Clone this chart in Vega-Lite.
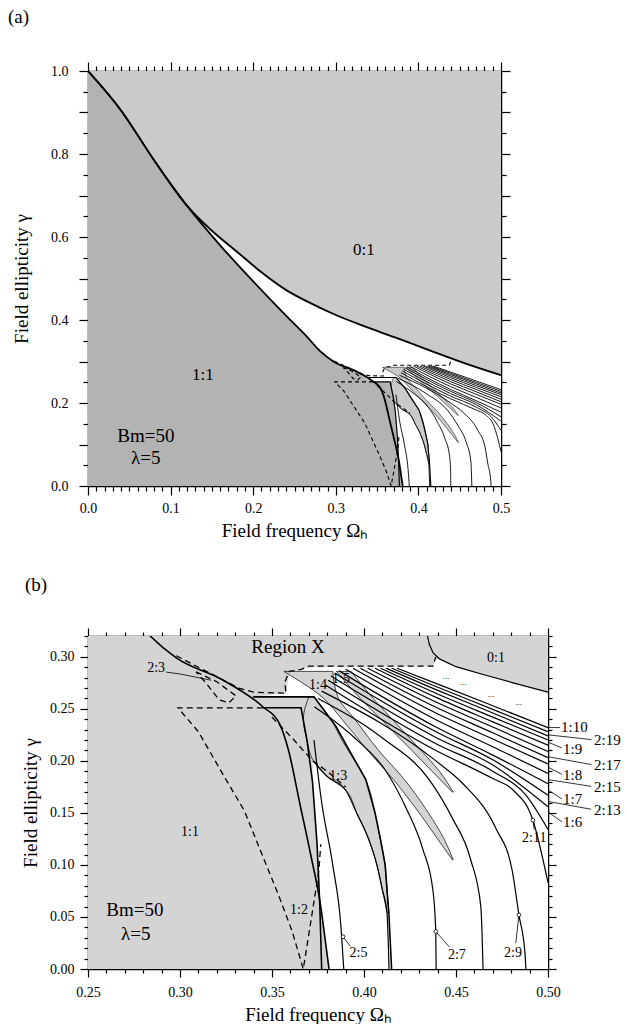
{
"$schema": "https://vega.github.io/schema/vega-lite/v6.json",
"padding": {"left": 8, "top": 8, "right": 0, "bottom": 0},
"spacing": 36,
"config": {
  "font": "Liberation Serif",
  "view": {"stroke": null},
  "axis": {"domainColor": "black", "domainWidth": 1.5, "tickColor": "black", "tickWidth": 1.2, "labelFont": "Liberation Serif", "labelFontSize": 14, "labelColor": "black", "titleFont": "Liberation Serif", "titleFontSize": 19, "titleFontWeight": "normal", "titleColor": "black", "grid": false, "labelFlush": false, "labelOverlap": false},
  "title": {"font": "Liberation Serif", "fontSize": 19, "fontWeight": "normal", "color": "black"}
},
"datasets": {
  "LA": [
    {"o":0,"x":0,"y":1},{"o":1,"x":0.04,"y":0.905},{"o":2,"x":0.08,"y":0.785},{"o":3,"x":0.12,"y":0.675},{"o":4,"x":0.16,"y":0.58},{"o":5,"x":0.2,"y":0.493},{"o":6,"x":0.24,"y":0.41},{"o":7,"x":0.265,"y":0.36},{"o":8,"x":0.281,"y":0.325},{"o":9,"x":0.298,"y":0.299},{"o":10,"x":0.323,"y":0.278},{"o":11,"x":0.345,"y":0.252},{"o":12,"x":0.354,"y":0.236},{"o":13,"x":0.359,"y":0.21},{"o":14,"x":0.365,"y":0.16},{"o":15,"x":0.371,"y":0.11},{"o":16,"x":0.3765,"y":0.06},{"o":17,"x":0.3795,"y":0.02},{"o":18,"x":0.381,"y":0}
  ],
  "C01a": [
    {"o":0,"x":0,"y":1},{"o":1,"x":0.04,"y":0.905},{"o":2,"x":0.08,"y":0.785},{"o":3,"x":0.12,"y":0.675},{"o":4,"x":0.15,"y":0.615},{"o":5,"x":0.18,"y":0.565},{"o":6,"x":0.21,"y":0.515},{"o":7,"x":0.24,"y":0.472},{"o":8,"x":0.27,"y":0.44},{"o":9,"x":0.3,"y":0.412},{"o":10,"x":0.34,"y":0.381},{"o":11,"x":0.38,"y":0.352},{"o":12,"x":0.42,"y":0.322},{"o":13,"x":0.46,"y":0.293},{"o":14,"x":0.5,"y":0.267}
  ],
  "C01b": [
    {"o":0,"x":0.4345,"y":0.32},{"o":1,"x":0.4355,"y":0.312},{"o":2,"x":0.4375,"y":0.304},{"o":3,"x":0.441,"y":0.298},{"o":4,"x":0.45,"y":0.2905},{"o":5,"x":0.4647,"y":0.283},{"o":6,"x":0.481,"y":0.275},{"o":7,"x":0.5,"y":0.266}
  ],
  "whiteA": [
    {"x":0,"lo":1,"hi":1},{"x":0.04,"lo":0.905,"hi":0.905},{"x":0.08,"lo":0.785,"hi":0.785},{"x":0.12,"lo":0.675,"hi":0.675},{"x":0.16,"lo":0.58,"hi":0.598},{"x":0.2,"lo":0.493,"hi":0.532},{"x":0.24,"lo":0.41,"hi":0.472},{"x":0.265,"lo":0.36,"hi":0.445},{"x":0.281,"lo":0.325,"hi":0.43},{"x":0.298,"lo":0.299,"hi":0.414},{"x":0.323,"lo":0.278,"hi":0.394},{"x":0.345,"lo":0.252,"hi":0.377},{"x":0.3658,"lo":0.251,"hi":0.362},{"x":0.369,"lo":0.22,"hi":0.36},{"x":0.372,"lo":0.18,"hi":0.358},{"x":0.3745,"lo":0.12,"hi":0.356},{"x":0.3765,"lo":0.06,"hi":0.355},{"x":0.3795,"lo":0.02,"hi":0.352},{"x":0.381,"lo":0,"hi":0.351},{"x":0.42,"lo":0,"hi":0.322},{"x":0.46,"lo":0,"hi":0.293},{"x":0.5,"lo":0,"hi":0.267}
  ],
  "darkA": [
    {"x":0,"y":1},{"x":0.04,"y":0.905},{"x":0.08,"y":0.785},{"x":0.12,"y":0.675},{"x":0.16,"y":0.58},{"x":0.2,"y":0.493},{"x":0.24,"y":0.41},{"x":0.265,"y":0.36},{"x":0.281,"y":0.325},{"x":0.298,"y":0.299},{"x":0.323,"y":0.278},{"x":0.345,"y":0.252},{"x":0.3658,"y":0.251},{"x":0.369,"y":0.22},{"x":0.372,"y":0.18},{"x":0.3745,"y":0.12},{"x":0.3765,"y":0.06},{"x":0.3795,"y":0.02},{"x":0.381,"y":0}
  ],
  "whiteB": [
    {"y":0,"xl":0.381,"xr":0.5},{"y":0.02,"xl":0.3795,"xr":0.5},{"y":0.06,"xl":0.3765,"xr":0.5},{"y":0.1,"xl":0.3755,"xr":0.5},{"y":0.12,"xl":0.3745,"xr":0.5},{"y":0.18,"xl":0.372,"xr":0.5},{"y":0.22,"xl":0.3722,"xr":0.5},{"y":0.251,"xl":0.3728,"xr":0.5},{"y":0.2614,"xl":0.3728,"xr":0.5},{"y":0.2615,"xl":0.3397,"xr":0.5},{"y":0.265,"xl":0.3576,"xr":0.5},{"y":0.266,"xl":0.3577,"xr":0.5},{"y":0.275,"xl":0.3585,"xr":0.481},{"y":0.283,"xl":0.3593,"xr":0.4647},{"y":0.285,"xl":0.3595,"xr":0.46},{"y":0.29,"xl":0.37,"xr":0.45},{"y":0.291,"xl":0.4375,"xr":0.4485},{"y":0.298,"xl":0.439,"xr":0.441}
  ],
  "tongue": [
    {"id":"t13","y":0.054,"xl":0.4125,"xr":0.4135},{"id":"t13","y":0.076,"xl":0.41,"xr":0.4125},{"id":"t13","y":0.1,"xl":0.407,"xr":0.4115},{"id":"t13","y":0.124,"xl":0.4027,"xr":0.409},{"id":"t13","y":0.15,"xl":0.396,"xr":0.406},{"id":"t13","y":0.172,"xl":0.39,"xr":0.403},{"id":"t13","y":0.185,"xl":0.38,"xr":0.4},{"id":"t13","y":0.2,"xl":0.3725,"xr":0.395},{"id":"t13","y":0.22,"xl":0.369,"xr":0.388},{"id":"t13","y":0.24,"xl":0.367,"xr":0.382},{"id":"t13","y":0.2615,"xl":0.37,"xr":0.3728},
    {"id":"t14","y":0.105,"xl":0.448,"xr":0.4485},{"id":"t14","y":0.125,"xl":0.44,"xr":0.4435},{"id":"t14","y":0.15,"xl":0.43,"xr":0.435},{"id":"t14","y":0.182,"xl":0.416,"xr":0.422},{"id":"t14","y":0.21,"xl":0.402,"xr":0.408},{"id":"t14","y":0.24,"xl":0.388,"xr":0.395},{"id":"t14","y":0.2606,"xl":0.3777,"xr":0.386},{"id":"t14","y":0.286,"xl":0.3565,"xr":0.383},
    {"id":"t15","y":0.17,"xl":0.448,"xr":0.4485},{"id":"t15","y":0.19,"xl":0.437,"xr":0.441},{"id":"t15","y":0.21,"xl":0.426,"xr":0.431},{"id":"t15","y":0.235,"xl":0.412,"xr":0.418},{"id":"t15","y":0.26,"xl":0.398,"xr":0.405},{"id":"t15","y":0.286,"xl":0.385,"xr":0.393}
  ],
  "fan": [
    {"id":"F1","o":0,"x":0.418,"y":0.289},{"id":"F1","o":1,"x":0.4391,"y":0.2745},{"id":"F1","o":2,"x":0.47,"y":0.253},{"id":"F1","o":3,"x":0.5,"y":0.232},
    {"id":"F2","o":0,"x":0.415,"y":0.289},{"id":"F2","o":1,"x":0.4391,"y":0.2715},{"id":"F2","o":2,"x":0.47,"y":0.2495},{"id":"F2","o":3,"x":0.5,"y":0.228},
    {"id":"F3","o":0,"x":0.412,"y":0.289},{"id":"F3","o":1,"x":0.4391,"y":0.2685},{"id":"F3","o":2,"x":0.47,"y":0.246},{"id":"F3","o":3,"x":0.5,"y":0.224},
    {"id":"F4","o":0,"x":0.409,"y":0.289},{"id":"F4","o":1,"x":0.4391,"y":0.265},{"id":"F4","o":2,"x":0.47,"y":0.242},{"id":"F4","o":3,"x":0.5,"y":0.22},
    {"id":"F5","o":0,"x":0.406,"y":0.289},{"id":"F5","o":1,"x":0.4391,"y":0.261},{"id":"F5","o":2,"x":0.47,"y":0.2375},{"id":"F5","o":3,"x":0.5,"y":0.215},
    {"id":"F6","o":0,"x":0.402,"y":0.289},{"id":"F6","o":1,"x":0.4391,"y":0.2565},{"id":"F6","o":2,"x":0.47,"y":0.2325},{"id":"F6","o":3,"x":0.5,"y":0.209},
    {"id":"F7","o":0,"x":0.398,"y":0.289},{"id":"F7","o":1,"x":0.4391,"y":0.2515},{"id":"F7","o":2,"x":0.47,"y":0.227},{"id":"F7","o":3,"x":0.5,"y":0.203},
    {"id":"F8","o":0,"x":0.394,"y":0.289},{"id":"F8","o":1,"x":0.4391,"y":0.246},{"id":"F8","o":2,"x":0.47,"y":0.221},{"id":"F8","o":3,"x":0.5,"y":0.197},
    {"id":"F9","o":0,"x":0.39,"y":0.288},{"id":"F9","o":1,"x":0.4391,"y":0.2395},{"id":"F9","o":2,"x":0.47,"y":0.2135},{"id":"F9","o":3,"x":0.5,"y":0.188},
    {"id":"F10","o":0,"x":0.3865,"y":0.2865},{"id":"F10","o":1,"x":0.4391,"y":0.2325},{"id":"F10","o":2,"x":0.47,"y":0.2055},{"id":"F10","o":3,"x":0.5,"y":0.178},
    {"id":"F11","o":0,"x":0.384,"y":0.2845},{"id":"F11","o":1,"x":0.4391,"y":0.228},{"id":"F11","o":2,"x":0.47,"y":0.201},{"id":"F11","o":3,"x":0.5,"y":0.167},
    {"id":"F12","o":0,"x":0.382,"y":0.2815},{"id":"F12","o":1,"x":0.4391,"y":0.2225},{"id":"F12","o":2,"x":0.47,"y":0.196},{"id":"F12","o":3,"x":0.5,"y":0.156},
    {"id":"X2","o":0,"x":0.3805,"y":0.2775},{"id":"X2","o":1,"x":0.4391,"y":0.2165},{"id":"X2","o":2,"x":0.47,"y":0.19},{"id":"X2","o":3,"x":0.488,"y":0.167},{"id":"X2","o":4,"x":0.5,"y":0.134},
    {"id":"G6","o":0,"x":0.379,"y":0.273},{"id":"G6","o":1,"x":0.4391,"y":0.21},{"id":"G6","o":2,"x":0.47,"y":0.183},{"id":"G6","o":3,"x":0.481,"y":0.172},{"id":"G6","o":4,"x":0.4918,"y":0.143},{"id":"G6","o":5,"x":0.5,"y":0.083},
    {"id":"G5","o":0,"x":0.377,"y":0.267},{"id":"G5","o":1,"x":0.4391,"y":0.2},{"id":"G5","o":2,"x":0.4538,"y":0.178},{"id":"G5","o":3,"x":0.4717,"y":0.135},{"id":"G5","o":4,"x":0.4805,"y":0.095},{"id":"G5","o":5,"x":0.4842,"y":0.052},{"id":"G5","o":6,"x":0.4875,"y":0.015},{"id":"G5","o":7,"x":0.488,"y":0},
    {"id":"G4","o":0,"x":0.375,"y":0.26},{"id":"G4","o":1,"x":0.41,"y":0.222},{"id":"G4","o":2,"x":0.4354,"y":0.182},{"id":"G4","o":3,"x":0.448,"y":0.145},{"id":"G4","o":4,"x":0.458,"y":0.105},{"id":"G4","o":5,"x":0.4635,"y":0.06},{"id":"G4","o":6,"x":0.4647,"y":0},
    {"id":"G3","o":0,"x":0.373,"y":0.252},{"id":"G3","o":1,"x":0.395,"y":0.222},{"id":"G3","o":2,"x":0.412,"y":0.19},{"id":"G3","o":3,"x":0.4228,"y":0.155},{"id":"G3","o":4,"x":0.432,"y":0.115},{"id":"G3","o":5,"x":0.4375,"y":0.075},{"id":"G3","o":6,"x":0.439,"y":0.036},{"id":"G3","o":7,"x":0.4392,"y":0},
    {"id":"G2","o":0,"x":0.3725,"y":0.2},{"id":"G2","o":1,"x":0.38,"y":0.185},{"id":"G2","o":2,"x":0.39,"y":0.172},{"id":"G2","o":3,"x":0.396,"y":0.15},{"id":"G2","o":4,"x":0.4027,"y":0.124},{"id":"G2","o":5,"x":0.407,"y":0.1},{"id":"G2","o":6,"x":0.41,"y":0.076},{"id":"G2","o":7,"x":0.4125,"y":0.054},{"id":"G2","o":8,"x":0.4136,"y":0},
    {"id":"G1","o":0,"x":0.3728,"y":0.22},{"id":"G1","o":1,"x":0.377,"y":0.16},{"id":"G1","o":2,"x":0.383,"y":0.1},{"id":"G1","o":3,"x":0.3875,"y":0.04},{"id":"G1","o":4,"x":0.389,"y":0}
  ],
  "seg": [
    {"id":"LB","o":0,"x":0.345,"y":0.251},{"id":"LB","o":1,"x":0.3658,"y":0.251},{"id":"LB","o":2,"x":0.369,"y":0.22},{"id":"LB","o":3,"x":0.372,"y":0.18},{"id":"LB","o":4,"x":0.3745,"y":0.12},{"id":"LB","o":5,"x":0.376,"y":0.06},{"id":"LB","o":6,"x":0.377,"y":0},
    {"id":"H1","o":0,"x":0.3397,"y":0.2615},{"id":"H1","o":1,"x":0.3728,"y":0.2615},{"id":"H1","o":2,"x":0.3848,"y":0.233},{"id":"H1","o":3,"x":0.392,"y":0.21},{"id":"H1","o":4,"x":0.401,"y":0.182},{"id":"H1","o":5,"x":0.406,"y":0.15},{"id":"H1","o":6,"x":0.409,"y":0.124},{"id":"H1","o":7,"x":0.4115,"y":0.1},{"id":"H1","o":8,"x":0.4125,"y":0.076},{"id":"H1","o":9,"x":0.4135,"y":0.054},{"id":"H1","o":10,"x":0.415,"y":0}
  ],
  "dash": [
    {"id":"DV","o":0,"x":0.345,"y":0.251},{"id":"DV","o":1,"x":0.2989,"y":0.251},{"id":"DV","o":2,"x":0.31,"y":0.228},{"id":"DV","o":3,"x":0.325,"y":0.182},{"id":"DV","o":4,"x":0.335,"y":0.152},{"id":"DV","o":5,"x":0.343,"y":0.117},{"id":"DV","o":6,"x":0.354,"y":0.069},{"id":"DV","o":7,"x":0.361,"y":0.036},{"id":"DV","o":8,"x":0.367,"y":0},{"id":"DV","o":9,"x":0.3715,"y":0.05},{"id":"DV","o":10,"x":0.3755,"y":0.095},{"id":"DV","o":11,"x":0.3765,"y":0.12},
    {"id":"D1","o":0,"x":0.298,"y":0.301},{"id":"D1","o":1,"x":0.31,"y":0.29},{"id":"D1","o":2,"x":0.322,"y":0.279},{"id":"D1","o":3,"x":0.332,"y":0.27},{"id":"D1","o":4,"x":0.34,"y":0.266},{"id":"D1","o":5,"x":0.3576,"y":0.265},{"id":"D1","o":6,"x":0.357,"y":0.276},{"id":"D1","o":7,"x":0.3595,"y":0.286},{"id":"D1","o":8,"x":0.366,"y":0.288},{"id":"D1","o":9,"x":0.37,"y":0.291},{"id":"D1","o":10,"x":0.4375,"y":0.291},{"id":"D1","o":11,"x":0.439,"y":0.3},
    {"id":"D2","o":0,"x":0.3087,"y":0.2856},{"id":"D2","o":1,"x":0.32,"y":0.276},{"id":"D2","o":2,"x":0.3304,"y":0.2625},{"id":"D2","o":3,"x":0.3266,"y":0.2558},{"id":"D2","o":4,"x":0.3212,"y":0.2587},{"id":"D2","o":5,"x":0.3141,"y":0.275},{"id":"D2","o":6,"x":0.3087,"y":0.2856},
    {"id":"D3","o":0,"x":0.35,"y":0.242},{"id":"D3","o":1,"x":0.362,"y":0.22},{"id":"D3","o":2,"x":0.372,"y":0.2},{"id":"D3","o":3,"x":0.38,"y":0.19},{"id":"D3","o":4,"x":0.39,"y":0.175}
  ],
  "lead": [
    {"id":"L25","o":0,"x":0.3886,"y":0.031},{"id":"L25","o":1,"x":0.3925,"y":0.022},
    {"id":"L27","o":0,"x":0.439,"y":0.036},{"id":"L27","o":1,"x":0.4465,"y":0.021},
    {"id":"L29","o":0,"x":0.4842,"y":0.052},{"id":"L29","o":1,"x":0.4825,"y":0.025},
    {"id":"L211","o":0,"x":0.4918,"y":0.143},{"id":"L211","o":1,"x":0.4925,"y":0.134},
    {"id":"L23","o":0,"x":0.2925,"y":0.2853},{"id":"L23","o":1,"x":0.3,"y":0.2835},{"id":"L23","o":2,"x":0.317,"y":0.2775},
    {"id":"R110","o":0,"x":0.5,"y":0.232},{"id":"R110","o":1,"x":0.5065,"y":0.232},
    {"id":"R219","o":0,"x":0.5,"y":0.225},{"id":"R219","o":1,"x":0.5235,"y":0.2205},
    {"id":"R19","o":0,"x":0.5,"y":0.218},{"id":"R19","o":1,"x":0.5075,"y":0.2125},
    {"id":"R217","o":0,"x":0.5,"y":0.204},{"id":"R217","o":1,"x":0.5235,"y":0.1965},
    {"id":"R18","o":0,"x":0.5,"y":0.194},{"id":"R18","o":1,"x":0.5075,"y":0.187},
    {"id":"R215","o":0,"x":0.5,"y":0.182},{"id":"R215","o":1,"x":0.5235,"y":0.1755},
    {"id":"R17","o":0,"x":0.5,"y":0.172},{"id":"R17","o":1,"x":0.5075,"y":0.1635},
    {"id":"R213","o":0,"x":0.5,"y":0.161},{"id":"R213","o":1,"x":0.5235,"y":0.1535},
    {"id":"R16","o":0,"x":0.5,"y":0.151},{"id":"R16","o":1,"x":0.5075,"y":0.1415}
  ],
  "marks": [
    {"x":0.3886,"y":0.031},{"x":0.439,"y":0.036},{"x":0.4842,"y":0.052},{"x":0.4918,"y":0.143}
  ],
  "labBbig": [
    {"t":"Region X","x":0.3587,"y":0.3096},{"t":"Bm=50","x":0.2755,"y":0.0567},{"t":"λ=5","x":0.276,"y":0.034}
  ],
  "labBmed": [
    {"t":"1:1","x":0.3054,"y":0.1317},{"t":"0:1","x":0.4717,"y":0.299},{"t":"1:2","x":0.3647,"y":0.057},{"t":"1:3","x":0.386,"y":0.185},{"t":"1:4","x":0.375,"y":0.273},{"t":"1:5","x":0.3875,"y":0.279},{"t":"2:3","x":0.287,"y":0.2894},{"t":"2:5","x":0.397,"y":0.0154},{"t":"2:7","x":0.4505,"y":0.013},{"t":"2:9","x":0.481,"y":0.015},{"t":"2:11","x":0.4925,"y":0.126}
  ],
  "labBright": [
    {"t":"1:10","x":0.5071,"y":0.2325},{"t":"2:19","x":0.525,"y":0.2205},{"t":"1:9","x":0.5082,"y":0.2115},{"t":"2:17","x":0.525,"y":0.1965},{"t":"1:8","x":0.5082,"y":0.1865},{"t":"2:15","x":0.525,"y":0.175},{"t":"1:7","x":0.5082,"y":0.163},{"t":"2:13","x":0.525,"y":0.153},{"t":"1:6","x":0.5082,"y":0.141}
  ],
  "dots": [
    {"t":"...","x":0.4446,"y":0.282},{"t":"...","x":0.454,"y":0.276},{"t":"...","x":0.469,"y":0.264},{"t":"...","x":0.484,"y":0.257}
  ],
  "labA": [
    {"t":"0:1","x":0.334,"y":0.569},{"t":"1:1","x":0.139,"y":0.267}
  ],
  "labAbig": [
    {"t":"Bm=50","x":0.07,"y":0.12},{"t":"λ=5","x":0.07,"y":0.068}
  ]
},
"vconcat": [
  {
    "width": 413, "height": 415,
    "title": {"text": "(a)", "anchor": "start", "frame": "group", "dx": -80, "offset": 34, "font": "Liberation Serif"},
    "resolve": {"axis": {"x": "independent", "y": "independent"}},
    "layer": [
      {"data": {"values": [{"x": 0, "x2": 0.5, "y": 0, "y2": 1}]},
       "mark": {"type": "rect", "fill": "#cacaca"},
       "encoding": {
         "x": {"field": "x", "type": "quantitative", "scale": {"domain": [0, 0.5], "nice": false, "zero": false},
               "axis": {"orient": "bottom", "values": [0, 0.1, 0.2, 0.3, 0.4, 0.5], "format": ".1f", "tickSize": 9, "labelPadding": 6, "labelFont": "Liberation Serif", "labelFontSize": 14, "titleFont": "Liberation Serif", "titleFontSize": 19, "titleFontWeight": "normal", "title": "Field frequency Ωₕ", "titlePadding": 6}},
         "x2": {"field": "x2"},
         "y": {"field": "y", "type": "quantitative", "scale": {"domain": [0, 1], "nice": false, "zero": false},
               "axis": {"orient": "left", "values": [0, 0.1, 0.2, 0.3, 0.4, 0.5, 0.6, 0.7, 0.8, 0.9, 1.0], "tickSize": 9, "labelPadding": 11, "labelFont": "Liberation Serif", "labelFontSize": 14, "titleFont": "Liberation Serif", "titleFontSize": 19, "titleFontWeight": "normal", "labelExpr": "round(datum.value*10)%2==0 ? format(datum.value, '.1f') : ''", "title": "Field ellipticity γ", "titlePadding": 19}},
         "y2": {"field": "y2"}}},
      {"data": {"name": "whiteA"},
       "mark": {"type": "area", "fill": "white", "orient": "vertical", "interpolate": "monotone"},
       "encoding": {
         "x": {"field": "x", "type": "quantitative", "scale": {"domain": [0, 0.5], "nice": false, "zero": false},
               "axis": {"orient": "top", "values": [0, 0.1, 0.2, 0.3, 0.4, 0.5], "tickSize": 9, "labels": false, "title": null}},
         "y": {"field": "lo", "type": "quantitative", "scale": {"domain": [0, 1], "nice": false, "zero": false},
               "axis": {"orient": "right", "values": [0, 0.1, 0.2, 0.3, 0.4, 0.5, 0.6, 0.7, 0.8, 0.9, 1.0], "tickSize": 9, "labels": false, "title": null}},
         "y2": {"field": "hi"}}},
      {"data": {"name": "darkA"},
       "mark": {"type": "area", "fill": "#b3b3b3", "orient": "vertical", "interpolate": "monotone"},
       "encoding": {
         "x": {"field": "x", "type": "quantitative", "scale": {"domain": [0, 0.5], "nice": false, "zero": false},
               "axis": {"orient": "bottom", "values": [0.01,0.02,0.03,0.04,0.05,0.06,0.07,0.08,0.09,0.11,0.12,0.13,0.14,0.15,0.16,0.17,0.18,0.19,0.21,0.22,0.23,0.24,0.25,0.26,0.27,0.28,0.29,0.31,0.32,0.33,0.34,0.35,0.36,0.37,0.38,0.39,0.41,0.42,0.43,0.44,0.45,0.46,0.47,0.48,0.49], "tickSize": 5, "labels": false, "domain": false, "title": null}},
         "y": {"field": "y", "type": "quantitative", "scale": {"domain": [0, 1], "nice": false, "zero": false},
               "axis": {"orient": "left", "values": [0.05,0.15,0.25,0.35,0.45,0.55,0.65,0.75,0.85,0.95], "tickSize": 5, "labels": false, "domain": false, "title": null}},
         "y2": {"datum": 0}}},
      {"data": {"name": "tongue"},
       "mark": {"type": "area", "orient": "horizontal", "fill": "#cacaca", "stroke": "black", "strokeWidth": 0.5, "interpolate": "monotone", "clip": true},
       "encoding": {
         "y": {"field": "y", "type": "quantitative", "scale": {"domain": [0, 1], "nice": false, "zero": false},
               "axis": {"orient": "right", "values": [0.05,0.15,0.25,0.35,0.45,0.55,0.65,0.75,0.85,0.95], "tickSize": 5, "labels": false, "domain": false, "title": null}},
         "x": {"field": "xl", "type": "quantitative", "scale": {"domain": [0, 0.5], "nice": false, "zero": false},
               "axis": {"orient": "top", "values": [0.01,0.02,0.03,0.04,0.05,0.06,0.07,0.08,0.09,0.11,0.12,0.13,0.14,0.15,0.16,0.17,0.18,0.19,0.21,0.22,0.23,0.24,0.25,0.26,0.27,0.28,0.29,0.31,0.32,0.33,0.34,0.35,0.36,0.37,0.38,0.39,0.41,0.42,0.43,0.44,0.45,0.46,0.47,0.48,0.49], "tickSize": 5, "labels": false, "domain": false, "title": null}},
         "x2": {"field": "xr"},
         "detail": {"field": "id"}}},
      {"data": {"name": "fan"},
       "mark": {"type": "line", "stroke": "black", "strokeWidth": 0.9, "interpolate": "monotone", "clip": true},
       "encoding": {
         "x": {"field": "x", "type": "quantitative", "scale": {"domain": [0, 0.5], "nice": false, "zero": false}, "axis": null},
         "y": {"field": "y", "type": "quantitative", "scale": {"domain": [0, 1], "nice": false, "zero": false}, "axis": null},
         "detail": {"field": "id"}, "order": {"field": "o"}}},
      {"data": {"name": "seg"},
       "mark": {"type": "line", "stroke": "black", "strokeWidth": 1.2, "clip": true},
       "encoding": {
         "x": {"field": "x", "type": "quantitative", "scale": {"domain": [0, 0.5], "nice": false, "zero": false}, "axis": null},
         "y": {"field": "y", "type": "quantitative", "scale": {"domain": [0, 1], "nice": false, "zero": false}, "axis": null},
         "detail": {"field": "id"}, "order": {"field": "o"}}},
      {"data": {"name": "dash"},
       "mark": {"type": "line", "stroke": "black", "strokeWidth": 1.1, "strokeDash": [4, 3], "clip": true},
       "encoding": {
         "x": {"field": "x", "type": "quantitative", "scale": {"domain": [0, 0.5], "nice": false, "zero": false}, "axis": null},
         "y": {"field": "y", "type": "quantitative", "scale": {"domain": [0, 1], "nice": false, "zero": false}, "axis": null},
         "detail": {"field": "id"}, "order": {"field": "o"}}},
      {"data": {"name": "LA"},
       "mark": {"type": "line", "stroke": "black", "strokeWidth": 1.8, "interpolate": "monotone", "clip": true},
       "encoding": {
         "x": {"field": "x", "type": "quantitative", "scale": {"domain": [0, 0.5], "nice": false, "zero": false}, "axis": null},
         "y": {"field": "y", "type": "quantitative", "scale": {"domain": [0, 1], "nice": false, "zero": false}, "axis": null},
         "order": {"field": "o"}}},
      {"data": {"name": "C01a"},
       "mark": {"type": "line", "stroke": "black", "strokeWidth": 1.8, "interpolate": "monotone", "clip": true},
       "encoding": {
         "x": {"field": "x", "type": "quantitative", "scale": {"domain": [0, 0.5], "nice": false, "zero": false}, "axis": null},
         "y": {"field": "y", "type": "quantitative", "scale": {"domain": [0, 1], "nice": false, "zero": false}, "axis": null},
         "order": {"field": "o"}}},
      {"data": {"name": "labA"},
       "mark": {"type": "text", "font": "Liberation Serif", "fontSize": 17, "color": "black", "align": "center", "baseline": "middle"},
       "encoding": {
         "x": {"field": "x", "type": "quantitative", "scale": {"domain": [0, 0.5], "nice": false, "zero": false}, "axis": null},
         "y": {"field": "y", "type": "quantitative", "scale": {"domain": [0, 1], "nice": false, "zero": false}, "axis": null},
         "text": {"field": "t"}}},
      {"data": {"name": "labAbig"},
       "mark": {"type": "text", "font": "Liberation Serif", "fontSize": 19, "color": "black", "align": "center", "baseline": "middle"},
       "encoding": {
         "x": {"field": "x", "type": "quantitative", "scale": {"domain": [0, 0.5], "nice": false, "zero": false}, "axis": null},
         "y": {"field": "y", "type": "quantitative", "scale": {"domain": [0, 1], "nice": false, "zero": false}, "axis": null},
         "text": {"field": "t"}}}
    ]
  },
  {
    "width": 460, "height": 333,
    "title": {"text": "(b)", "anchor": "start", "frame": "group", "dx": -63, "offset": 32, "font": "Liberation Serif"},
    "resolve": {"axis": {"x": "independent", "y": "independent"}},
    "layer": [
      {"data": {"values": [{"x": 0.25, "x2": 0.5, "y": 0, "y2": 0.32}]},
       "mark": {"type": "rect", "fill": "#d4d4d4"},
       "encoding": {
         "x": {"field": "x", "type": "quantitative", "scale": {"domain": [0.25, 0.5], "nice": false, "zero": false},
               "axis": {"orient": "bottom", "values": [0.25, 0.3, 0.35, 0.4, 0.45, 0.5], "format": ".2f", "tickSize": 8, "labelPadding": 8, "labelFont": "Liberation Serif", "labelFontSize": 14, "titleFont": "Liberation Serif", "titleFontSize": 19, "titleFontWeight": "normal", "title": "Field frequency Ωₕ", "titlePadding": 6}},
         "x2": {"field": "x2"},
         "y": {"field": "y", "type": "quantitative", "scale": {"domain": [0, 0.32], "nice": false, "zero": false},
               "axis": {"orient": "left", "values": [0, 0.05, 0.1, 0.15, 0.2, 0.25, 0.3], "format": ".2f", "tickSize": 8, "labelPadding": 6, "labelFont": "Liberation Serif", "labelFontSize": 14, "titleFont": "Liberation Serif", "titleFontSize": 19, "titleFontWeight": "normal", "title": "Field ellipticity γ", "titlePadding": 9}},
         "y2": {"field": "y2"}}},
      {"data": {"name": "whiteB"},
       "mark": {"type": "area", "fill": "white", "orient": "horizontal"},
       "encoding": {
         "y": {"field": "y", "type": "quantitative", "scale": {"domain": [0, 0.32], "nice": false, "zero": false},
               "axis": {"orient": "right", "values": [0, 0.05, 0.1, 0.15, 0.2, 0.25, 0.3], "tickSize": 8, "labels": false, "title": null}},
         "x": {"field": "xl", "type": "quantitative", "scale": {"domain": [0.25, 0.5], "nice": false, "zero": false},
               "axis": {"orient": "top", "values": [0.25, 0.3, 0.35, 0.4, 0.45, 0.5], "tickSize": 8, "labels": false, "title": null}},
         "x2": {"field": "xr"}}},
      {"data": {"name": "tongue"},
       "mark": {"type": "area", "orient": "horizontal", "fill": "#d4d4d4", "stroke": "black", "strokeWidth": 0.7, "interpolate": "monotone", "clip": true},
       "encoding": {
         "y": {"field": "y", "type": "quantitative", "scale": {"domain": [0, 0.32], "nice": false, "zero": false},
               "axis": {"orient": "left", "values": [0.01,0.02,0.03,0.04,0.06,0.07,0.08,0.09,0.11,0.12,0.13,0.14,0.16,0.17,0.18,0.19,0.21,0.22,0.23,0.24,0.26,0.27,0.28,0.29,0.31,0.32], "tickSize": 4, "labels": false, "domain": false, "title": null}},
         "x": {"field": "xl", "type": "quantitative", "scale": {"domain": [0.25, 0.5], "nice": false, "zero": false},
               "axis": {"orient": "bottom", "values": [0.26,0.27,0.28,0.29,0.31,0.32,0.33,0.34,0.36,0.37,0.38,0.39,0.41,0.42,0.43,0.44,0.46,0.47,0.48,0.49], "tickSize": 4, "labels": false, "domain": false, "title": null}},
         "x2": {"field": "xr"},
         "detail": {"field": "id"}}},
      {"data": {"name": "fan"},
       "mark": {"type": "line", "stroke": "black", "strokeWidth": 1.2, "interpolate": "monotone", "clip": true},
       "encoding": {
         "x": {"field": "x", "type": "quantitative", "scale": {"domain": [0.25, 0.5], "nice": false, "zero": false},
               "axis": {"orient": "top", "values": [0.26,0.27,0.28,0.29,0.31,0.32,0.33,0.34,0.36,0.37,0.38,0.39,0.41,0.42,0.43,0.44,0.46,0.47,0.48,0.49], "tickSize": 4, "labels": false, "domain": false, "title": null}},
         "y": {"field": "y", "type": "quantitative", "scale": {"domain": [0, 0.32], "nice": false, "zero": false},
               "axis": {"orient": "right", "values": [0.01,0.02,0.03,0.04,0.06,0.07,0.08,0.09,0.11,0.12,0.13,0.14,0.16,0.17,0.18,0.19,0.21,0.22,0.23,0.24,0.26,0.27,0.28,0.29,0.31,0.32], "tickSize": 4, "labels": false, "domain": false, "title": null}},
         "detail": {"field": "id"}, "order": {"field": "o"}}},
      {"data": {"name": "seg"},
       "mark": {"type": "line", "stroke": "black", "strokeWidth": 1.6, "clip": true},
       "encoding": {
         "x": {"field": "x", "type": "quantitative", "scale": {"domain": [0.25, 0.5], "nice": false, "zero": false}, "axis": null},
         "y": {"field": "y", "type": "quantitative", "scale": {"domain": [0, 0.32], "nice": false, "zero": false}, "axis": null},
         "detail": {"field": "id"}, "order": {"field": "o"}}},
      {"data": {"name": "C01b"},
       "mark": {"type": "line", "stroke": "black", "strokeWidth": 1.2, "clip": true},
       "encoding": {
         "x": {"field": "x", "type": "quantitative", "scale": {"domain": [0.25, 0.5], "nice": false, "zero": false}, "axis": null},
         "y": {"field": "y", "type": "quantitative", "scale": {"domain": [0, 0.32], "nice": false, "zero": false}, "axis": null},
         "order": {"field": "o"}}},
      {"data": {"name": "dash"},
       "mark": {"type": "line", "stroke": "black", "strokeWidth": 1.3, "strokeDash": [6, 4], "clip": true},
       "encoding": {
         "x": {"field": "x", "type": "quantitative", "scale": {"domain": [0.25, 0.5], "nice": false, "zero": false}, "axis": null},
         "y": {"field": "y", "type": "quantitative", "scale": {"domain": [0, 0.32], "nice": false, "zero": false}, "axis": null},
         "detail": {"field": "id"}, "order": {"field": "o"}}},
      {"data": {"name": "LA"},
       "mark": {"type": "line", "stroke": "black", "strokeWidth": 1.6, "interpolate": "monotone", "clip": true},
       "encoding": {
         "x": {"field": "x", "type": "quantitative", "scale": {"domain": [0.25, 0.5], "nice": false, "zero": false}, "axis": null},
         "y": {"field": "y", "type": "quantitative", "scale": {"domain": [0, 0.32], "nice": false, "zero": false}, "axis": null},
         "order": {"field": "o"}}},
      {"data": {"name": "lead"},
       "mark": {"type": "line", "stroke": "black", "strokeWidth": 0.8, "clip": false},
       "encoding": {
         "x": {"field": "x", "type": "quantitative", "scale": {"domain": [0.25, 0.5], "nice": false, "zero": false}, "axis": null},
         "y": {"field": "y", "type": "quantitative", "scale": {"domain": [0, 0.32], "nice": false, "zero": false}, "axis": null},
         "detail": {"field": "id"}, "order": {"field": "o"}}},
      {"data": {"name": "marks"},
       "mark": {"type": "point", "shape": "circle", "size": 14, "stroke": "black", "strokeWidth": 0.8, "fill": "white", "filled": true, "opacity": 1},
       "encoding": {
         "x": {"field": "x", "type": "quantitative", "scale": {"domain": [0.25, 0.5], "nice": false, "zero": false}, "axis": null},
         "y": {"field": "y", "type": "quantitative", "scale": {"domain": [0, 0.32], "nice": false, "zero": false}, "axis": null}}},
      {"data": {"name": "labBbig"},
       "mark": {"type": "text", "font": "Liberation Serif", "fontSize": 19, "color": "black", "align": "center", "baseline": "middle"},
       "encoding": {
         "x": {"field": "x", "type": "quantitative", "scale": {"domain": [0.25, 0.5], "nice": false, "zero": false}, "axis": null},
         "y": {"field": "y", "type": "quantitative", "scale": {"domain": [0, 0.32], "nice": false, "zero": false}, "axis": null},
         "text": {"field": "t"}}},
      {"data": {"name": "labBmed"},
       "mark": {"type": "text", "font": "Liberation Serif", "fontSize": 14, "color": "black", "align": "center", "baseline": "middle"},
       "encoding": {
         "x": {"field": "x", "type": "quantitative", "scale": {"domain": [0.25, 0.5], "nice": false, "zero": false}, "axis": null},
         "y": {"field": "y", "type": "quantitative", "scale": {"domain": [0, 0.32], "nice": false, "zero": false}, "axis": null},
         "text": {"field": "t"}}},
      {"data": {"name": "dots"},
       "mark": {"type": "text", "font": "Liberation Serif", "fontSize": 9, "color": "black", "align": "center", "baseline": "middle"},
       "encoding": {
         "x": {"field": "x", "type": "quantitative", "scale": {"domain": [0.25, 0.5], "nice": false, "zero": false}, "axis": null},
         "y": {"field": "y", "type": "quantitative", "scale": {"domain": [0, 0.32], "nice": false, "zero": false}, "axis": null},
         "text": {"field": "t"}}},
      {"data": {"name": "labBright"},
       "mark": {"type": "text", "font": "Liberation Serif", "fontSize": 15, "color": "black", "align": "left", "baseline": "middle", "clip": false},
       "encoding": {
         "x": {"field": "x", "type": "quantitative", "scale": {"domain": [0.25, 0.5], "nice": false, "zero": false}, "axis": null},
         "y": {"field": "y", "type": "quantitative", "scale": {"domain": [0, 0.32], "nice": false, "zero": false}, "axis": null},
         "text": {"field": "t"}}}
    ]
  }
]
}
